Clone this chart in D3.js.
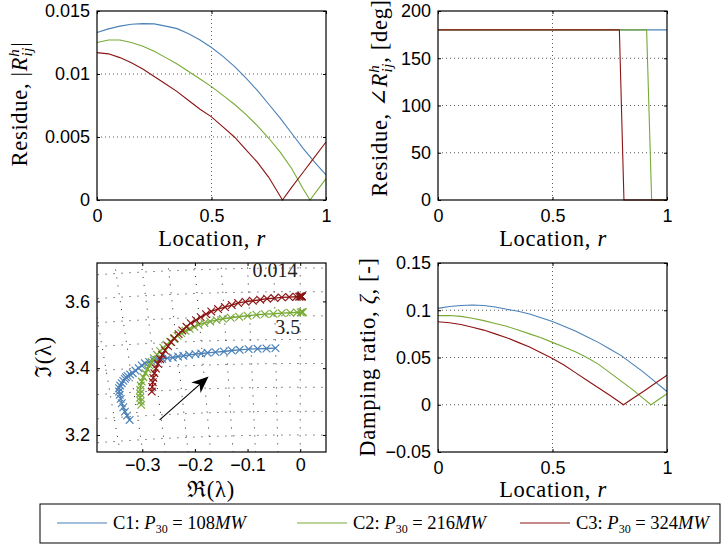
<!DOCTYPE html>
<html>
<head>
<meta charset="utf-8">
<script src="https://cdn.jsdelivr.net/npm/d3@7"></script>
<style>
body { margin: 0; background: #fff; }
svg { display: block; }
.tick text { font-family: "Liberation Sans", Arial, sans-serif; font-size: 18px; fill: #000; }
.lbl { font-family: "Liberation Serif", "DejaVu Serif", serif; font-size: 22.5px; fill: #000; letter-spacing: 0.7px; }
.note { font-family: "Liberation Serif", "DejaVu Serif", serif; font-size: 20px; fill: #222; }
.leg { font-family: "Liberation Serif", "DejaVu Serif", serif; font-size: 18.5px; fill: #000; }
</style>
</head>
<body>
<svg width="723" height="545"></svg>
<script>
const svg = d3.select("svg");

const seriesNames = ["C1", "C2", "C3"];
const seriesPower = ["108", "216", "324"];
const colors = ["#4a80b8", "#78aa36", "#8c1414"];

// residue magnitude |R| vs location r
const magLoc1 = [0, 0.05, 0.1, 0.15, 0.2, 0.25, 0.3, 0.35, 0.4, 0.45, 0.5, 0.55, 0.6, 0.65, 0.7, 0.75, 0.8, 0.85, 0.9, 0.95, 1];
const magC1 = [0.0133, 0.01358, 0.0138, 0.01395, 0.0140, 0.01398, 0.0138, 0.0136, 0.0132, 0.0127, 0.0121, 0.0114, 0.0106, 0.0097, 0.0087, 0.0076, 0.0065, 0.0053, 0.0041, 0.0030, 0.0020];
const magLoc2 = [0, 0.05, 0.1, 0.15, 0.2, 0.25, 0.3, 0.35, 0.4, 0.45, 0.5, 0.55, 0.6, 0.65, 0.7, 0.75, 0.8, 0.85, 0.9, 0.93, 1];
const magC2 = [0.0125, 0.0127, 0.0127, 0.0125, 0.0122, 0.0118, 0.0113, 0.0108, 0.0102, 0.0096, 0.0090, 0.0083, 0.0076, 0.0068, 0.0059, 0.0049, 0.0038, 0.0025, 0.0009, 0, 0.0017];
const magLoc3 = [0, 0.05, 0.1, 0.15, 0.2, 0.25, 0.3, 0.35, 0.4, 0.45, 0.5, 0.55, 0.6, 0.65, 0.7, 0.75, 0.81, 0.85, 0.9, 0.95, 1];
const magC3 = [0.0117, 0.0116, 0.0113, 0.0109, 0.0104, 0.0098, 0.0092, 0.0086, 0.0079, 0.0072, 0.0066, 0.0058, 0.0050, 0.0040, 0.0030, 0.0018, 0, 0.0010, 0.0022, 0.0034, 0.0046];

// residue angle vs location r
const angLoc1 = [0, 1];
const angC1 = [180, 180];
const angLoc2 = [0, 0.911, 0.933, 1];
const angC2 = [180, 180, 0, 0];
const angLoc3 = [0, 0.792, 0.812, 1];
const angC3 = [180, 180, 0, 0];

// damping ratio vs location r
const dampLoc1 = [0, 0.05, 0.1, 0.15, 0.2, 0.25, 0.3, 0.35, 0.4, 0.45, 0.5, 0.55, 0.6, 0.65, 0.7, 0.75, 0.8, 0.85, 0.9, 0.95, 1];
const dampC1 = [0.102, 0.104, 0.105, 0.1055, 0.105, 0.1035, 0.101, 0.099, 0.096, 0.092, 0.088, 0.083, 0.078, 0.072, 0.066, 0.059, 0.052, 0.043, 0.034, 0.024, 0.014];
const dampLoc2 = [0, 0.05, 0.1, 0.15, 0.2, 0.25, 0.3, 0.35, 0.4, 0.45, 0.5, 0.55, 0.6, 0.65, 0.7, 0.75, 0.8, 0.85, 0.9, 0.93, 1];
const dampC2 = [0.0943, 0.0945, 0.0935, 0.0915, 0.089, 0.086, 0.083, 0.079, 0.075, 0.071, 0.066, 0.061, 0.056, 0.050, 0.043, 0.034, 0.025, 0.016, 0.006, 0, 0.0117];
const dampLoc3 = [0, 0.05, 0.1, 0.15, 0.2, 0.25, 0.3, 0.35, 0.4, 0.45, 0.5, 0.55, 0.6, 0.65, 0.7, 0.75, 0.81, 0.85, 0.9, 0.95, 1];
const dampC3 = [0.0879, 0.0868, 0.085, 0.082, 0.079, 0.075, 0.071, 0.066, 0.061, 0.055, 0.049, 0.042, 0.034, 0.026, 0.018, 0.010, 0, 0.0066, 0.0146, 0.023, 0.0312];

// eigenvalue loci (real part, imaginary part)
const reC1 = [-0.324, -0.329, -0.333, -0.336, -0.339, -0.341, -0.343, -0.344, -0.344, -0.342, -0.339, -0.336, -0.333, -0.331, -0.328, -0.323, -0.318, -0.313, -0.307, -0.301, -0.295, -0.287, -0.278, -0.270, -0.262, -0.252, -0.242, -0.232, -0.222, -0.211, -0.199, -0.188, -0.176, -0.161, -0.145, -0.130, -0.115, -0.098, -0.081, -0.064, -0.047];
const imC1 = [3.245, 3.258, 3.270, 3.283, 3.295, 3.308, 3.320, 3.330, 3.340, 3.348, 3.355, 3.362, 3.368, 3.373, 3.377, 3.381, 3.385, 3.393, 3.400, 3.408, 3.415, 3.419, 3.423, 3.426, 3.428, 3.430, 3.432, 3.435, 3.437, 3.440, 3.442, 3.444, 3.446, 3.448, 3.450, 3.453, 3.455, 3.457, 3.458, 3.459, 3.460];
const reC2 = [-0.302, -0.303, -0.304, -0.304, -0.304, -0.303, -0.301, -0.298, -0.294, -0.290, -0.286, -0.282, -0.278, -0.272, -0.266, -0.260, -0.254, -0.247, -0.240, -0.233, -0.226, -0.218, -0.210, -0.201, -0.193, -0.182, -0.171, -0.159, -0.147, -0.132, -0.116, -0.100, -0.083, -0.067, -0.051, -0.035, -0.019, -0.006, 0.001, 0.004, 0.005];
const imC2 = [3.290, 3.301, 3.312, 3.324, 3.335, 3.348, 3.360, 3.373, 3.385, 3.397, 3.408, 3.419, 3.430, 3.440, 3.451, 3.461, 3.470, 3.479, 3.488, 3.497, 3.505, 3.512, 3.518, 3.524, 3.530, 3.535, 3.540, 3.544, 3.548, 3.551, 3.554, 3.557, 3.560, 3.562, 3.563, 3.565, 3.566, 3.567, 3.567, 3.568, 3.568];
const reC3 = [-0.282, -0.281, -0.280, -0.279, -0.277, -0.274, -0.270, -0.266, -0.262, -0.257, -0.251, -0.245, -0.239, -0.231, -0.224, -0.216, -0.208, -0.198, -0.189, -0.179, -0.169, -0.156, -0.143, -0.130, -0.118, -0.104, -0.090, -0.076, -0.063, -0.049, -0.035, -0.021, -0.007, -0.002, 0.000, 0.001, 0.002, 0.003, 0.003, 0.003, 0.003];
const imC3 = [3.330, 3.344, 3.358, 3.371, 3.385, 3.399, 3.413, 3.427, 3.440, 3.453, 3.466, 3.478, 3.490, 3.502, 3.513, 3.524, 3.535, 3.544, 3.553, 3.562, 3.570, 3.577, 3.583, 3.589, 3.595, 3.599, 3.602, 3.605, 3.608, 3.610, 3.612, 3.613, 3.614, 3.614, 3.615, 3.615, 3.615, 3.615, 3.615, 3.615, 3.615];

// s-plane grid: constant damping rays and constant frequency arcs
const gridZeta = [0, 0.0135, 0.027, 0.0405, 0.054, 0.0675, 0.081, 0.0945, 0.108];
const gridWn = [3.2, 3.271, 3.343, 3.414, 3.486, 3.557, 3.629, 3.7];

const panels = {
    mag: { x0: 97, x1: 326, y0: 11, y1: 200 },
    ang: { x0: 438, x1: 667, y0: 11, y1: 200 },
    eig: { x0: 97, x1: 326, y0: 263, y1: 452 },
    damp: { x0: 438, x1: 667, y0: 263, y1: 452 }
};

const fmt = d3.format("~g");

function makeAxes(b, xDomain, yDomain, xTicks, yTicks, xPad, regularGrid) {
    const x = d3.scaleLinear().domain(xDomain).range([b.x0, b.x1]);
    const y = d3.scaleLinear().domain(yDomain).range([b.y1, b.y0]);
    const g = svg.append("g");

    if (regularGrid) {
        g.selectAll(".gx")
            .data(xTicks.filter(t => t > xDomain[0] && t < xDomain[1]))
            .enter().append("line")
            .attr("x1", d => x(d)).attr("x2", d => x(d))
            .attr("y1", b.y0).attr("y2", b.y1)
            .attr("stroke", "#333").attr("stroke-width", 0.8)
            .attr("stroke-dasharray", "1,3");
        g.selectAll(".gy")
            .data(yTicks.filter(t => t > yDomain[0] && t < yDomain[1]))
            .enter().append("line")
            .attr("x1", b.x0).attr("x2", b.x1)
            .attr("y1", d => y(d)).attr("y2", d => y(d))
            .attr("stroke", "#333").attr("stroke-width", 0.8)
            .attr("stroke-dasharray", "1,3");
    }

    const axes = svg.append("g").attr("class", "axes");
    axes.append("g").attr("transform", `translate(0,${b.y1})`)
        .call(d3.axisBottom(x).tickValues(xTicks).tickSize(-3).tickSizeOuter(0).tickPadding(xPad).tickFormat(fmt));
    axes.append("g").attr("transform", `translate(0,${b.y0})`)
        .call(d3.axisTop(x).tickValues(xTicks).tickSize(-3).tickSizeOuter(0).tickFormat(""));
    axes.append("g").attr("transform", `translate(${b.x0},0)`)
        .call(d3.axisLeft(y).tickValues(yTicks).tickSize(-3).tickSizeOuter(0).tickPadding(7).tickFormat(fmt));
    axes.append("g").attr("transform", `translate(${b.x1},0)`)
        .call(d3.axisRight(y).tickValues(yTicks).tickSize(-3).tickSizeOuter(0).tickFormat(""));
    axes.selectAll(".domain").remove();
    axes.selectAll(".tick line").attr("stroke", "#000");
    axes.append("rect")
        .attr("x", b.x0).attr("y", b.y0)
        .attr("width", b.x1 - b.x0).attr("height", b.y1 - b.y0)
        .attr("fill", "none").attr("stroke", "#000").attr("stroke-width", 1.2);

    return { x, y, g, axes };
}

function drawLines(ax, locs, vals) {
    const line = d3.line().x(d => ax.x(d[0])).y(d => ax.y(d[1]));
    locs.forEach((loc, i) => {
        ax.g.append("path")
            .datum(loc.map((r, j) => [r, vals[i][j]]))
            .attr("d", line)
            .attr("fill", "none")
            .attr("stroke", colors[i])
            .attr("stroke-width", 1.1);
    });
}

// label helper: parts = [[text, {attrs}], ...]
function label(x, y, rotate, parts, cls) {
    const t = svg.append("text")
        .attr("class", cls || "lbl")
        .attr("text-anchor", "middle")
        .attr("transform", `translate(${x},${y})` + (rotate ? " rotate(-90)" : ""));
    parts.forEach(p => {
        const s = t.append("tspan").text(p[0]);
        Object.entries(p[1] || {}).forEach(([k, v]) => s.attr(k, v));
    });
    return t;
}

const it = { "font-style": "italic" };
const sup = { "font-style": "italic", "font-size": "15px", "dy": -8 };
const sub = { "font-style": "italic", "font-size": "15px", "dx": -8, "dy": 13 };

// ---- top left: magnitude
const axMag = makeAxes(panels.mag, [0, 1], [0, 0.015], [0, 0.5, 1], [0, 0.005, 0.01, 0.015], 9, true);
drawLines(axMag, [magLoc1, magLoc2, magLoc3], [magC1, magC2, magC3]);
label(212, 246, false, [["Location, "], ["r", it]]);
label(27, 104, true, [["Residue, |"], ["R", it], ["h", sup], ["ij", sub], ["|", { "dy": -5 }]]);

// ---- top right: angle
const axAng = makeAxes(panels.ang, [0, 1], [0, 200], [0, 0.5, 1], [0, 50, 100, 150, 200], 9, true);
drawLines(axAng, [angLoc1, angLoc2, angLoc3], [angC1, angC2, angC3]);
label(553, 246, false, [["Location, "], ["r", it]]);
label(387, 98, true, [["Residue, \u2220"], ["R", it], ["h", sup], ["ij", sub], [", [deg]", { "dy": -5 }]]);

// ---- bottom left: eigenvalue loci
const axEig = makeAxes(panels.eig, [-0.386, 0.049], [3.149, 3.715], [-0.3, -0.2, -0.1, 0], [3.2, 3.4, 3.6], 6, false);
const pe = panels.eig;
svg.append("clipPath").attr("id", "clipEig").append("rect")
    .attr("x", pe.x0).attr("y", pe.y0).attr("width", pe.x1 - pe.x0).attr("height", pe.y1 - pe.y0);
const sgrid = axEig.g.append("g").attr("clip-path", "url(#clipEig)")
    .attr("stroke", "#222").attr("stroke-width", 1).attr("fill", "none")
    .attr("stroke-dasharray", "1,7");
gridZeta.forEach(z => {
    const k = z / Math.sqrt(1 - z * z);
    sgrid.append("line")
        .attr("x1", axEig.x(-k * 3.1)).attr("y1", axEig.y(3.1))
        .attr("x2", axEig.x(-k * 3.8)).attr("y2", axEig.y(3.8));
});
gridWn.forEach(w => {
    const pts = d3.range(-0.4, 0.06, 0.01).map(re => [re, Math.sqrt(w * w - re * re)]);
    sgrid.append("path")
        .attr("d", d3.line().x(d => axEig.x(d[0])).y(d => axEig.y(d[1]))(pts));
});

const eigRe = [reC1, reC2, reC3];
const eigIm = [imC1, imC2, imC3];
eigRe.forEach((re, i) => {
    const pts = re.map((v, j) => [v, eigIm[i][j]]);
    const gs = axEig.g.append("g").attr("stroke", colors[i]).attr("fill", "none");
    gs.append("path")
        .attr("d", d3.line().x(d => axEig.x(d[0])).y(d => axEig.y(d[1]))(pts))
        .attr("stroke-width", 1.3);
    const m = 3.8;
    gs.selectAll(".mk").data(pts).enter().append("path")
        .attr("d", d => {
            const px = axEig.x(d[0]), py = axEig.y(d[1]);
            return `M${px - m},${py - m}L${px + m},${py + m}M${px - m},${py + m}L${px + m},${py - m}`;
        })
        .attr("stroke-width", 1.15);
});

// arrow
const ax0 = axEig.x(-0.267), ay0 = axEig.y(3.245);
const ax1 = axEig.x(-0.174), ay1 = axEig.y(3.375);
const ang = Math.atan2(ay1 - ay0, ax1 - ax0);
const ux = Math.cos(ang), uy = Math.sin(ang), nx = -uy, ny = ux;
const hl = 17, hw = 7;
axEig.g.append("line")
    .attr("x1", ax0).attr("y1", ay0)
    .attr("x2", ax1 - ux * 8).attr("y2", ay1 - uy * 8)
    .attr("stroke", "#000").attr("stroke-width", 1.1);
axEig.g.append("path")
    .attr("d", `M${ax1},${ay1}L${ax1 - ux * hl + nx * hw},${ay1 - uy * hl + ny * hw}` +
        `L${ax1 - ux * (hl - 5)},${ay1 - uy * (hl - 5)}` +
        `L${ax1 - ux * hl - nx * hw},${ay1 - uy * hl - ny * hw}Z`)
    .attr("fill", "#000");

svg.append("text").attr("class", "note").attr("text-anchor", "end")
    .attr("x", axEig.x(-0.005)).attr("y", axEig.y(3.672)).text("0.014");
svg.append("text").attr("class", "note").attr("text-anchor", "end")
    .attr("x", axEig.x(0.0)).attr("y", axEig.y(3.503)).text("3.5");

label(211, 497, false, [["\u211C(\u03BB)"]]);
label(51, 357, true, [["\u2111(\u03BB)"]]);

// ---- bottom right: damping ratio
const axDamp = makeAxes(panels.damp, [0, 1], [-0.05, 0.15], [0, 0.5, 1], [-0.05, 0, 0.05, 0.1, 0.15], 9, true);
drawLines(axDamp, [dampLoc1, dampLoc2, dampLoc3], [dampC1, dampC2, dampC3]);
label(553, 497, false, [["Location, "], ["r", it]]);
label(375, 357, true, [["Damping ratio, "], ["\u03B6", it], [", [-]"]]);

// ---- legend
const legend = svg.append("g");
legend.append("rect")
    .attr("x", 40).attr("y", 504).attr("width", 680).attr("height", 39)
    .attr("fill", "#fff").attr("stroke", "#000").attr("stroke-width", 1);
const legX = [57, 297, 520];
seriesNames.forEach((name, i) => {
    legend.append("line")
        .attr("x1", legX[i]).attr("x2", legX[i] + 50)
        .attr("y1", 523).attr("y2", 523)
        .attr("stroke", colors[i]).attr("stroke-width", 1.1);
    const t = legend.append("text").attr("class", "leg")
        .attr("x", legX[i] + 56).attr("y", 529);
    t.append("tspan").text(name + ":  ");
    t.append("tspan").attr("font-style", "italic").text("P");
    t.append("tspan").attr("font-size", "12px").attr("dy", 4).text("30");
    t.append("tspan").attr("dy", -4).text(" = " + seriesPower[i]);
    t.append("tspan").attr("font-style", "italic").text("MW");
});
</script>
</body>
</html>
